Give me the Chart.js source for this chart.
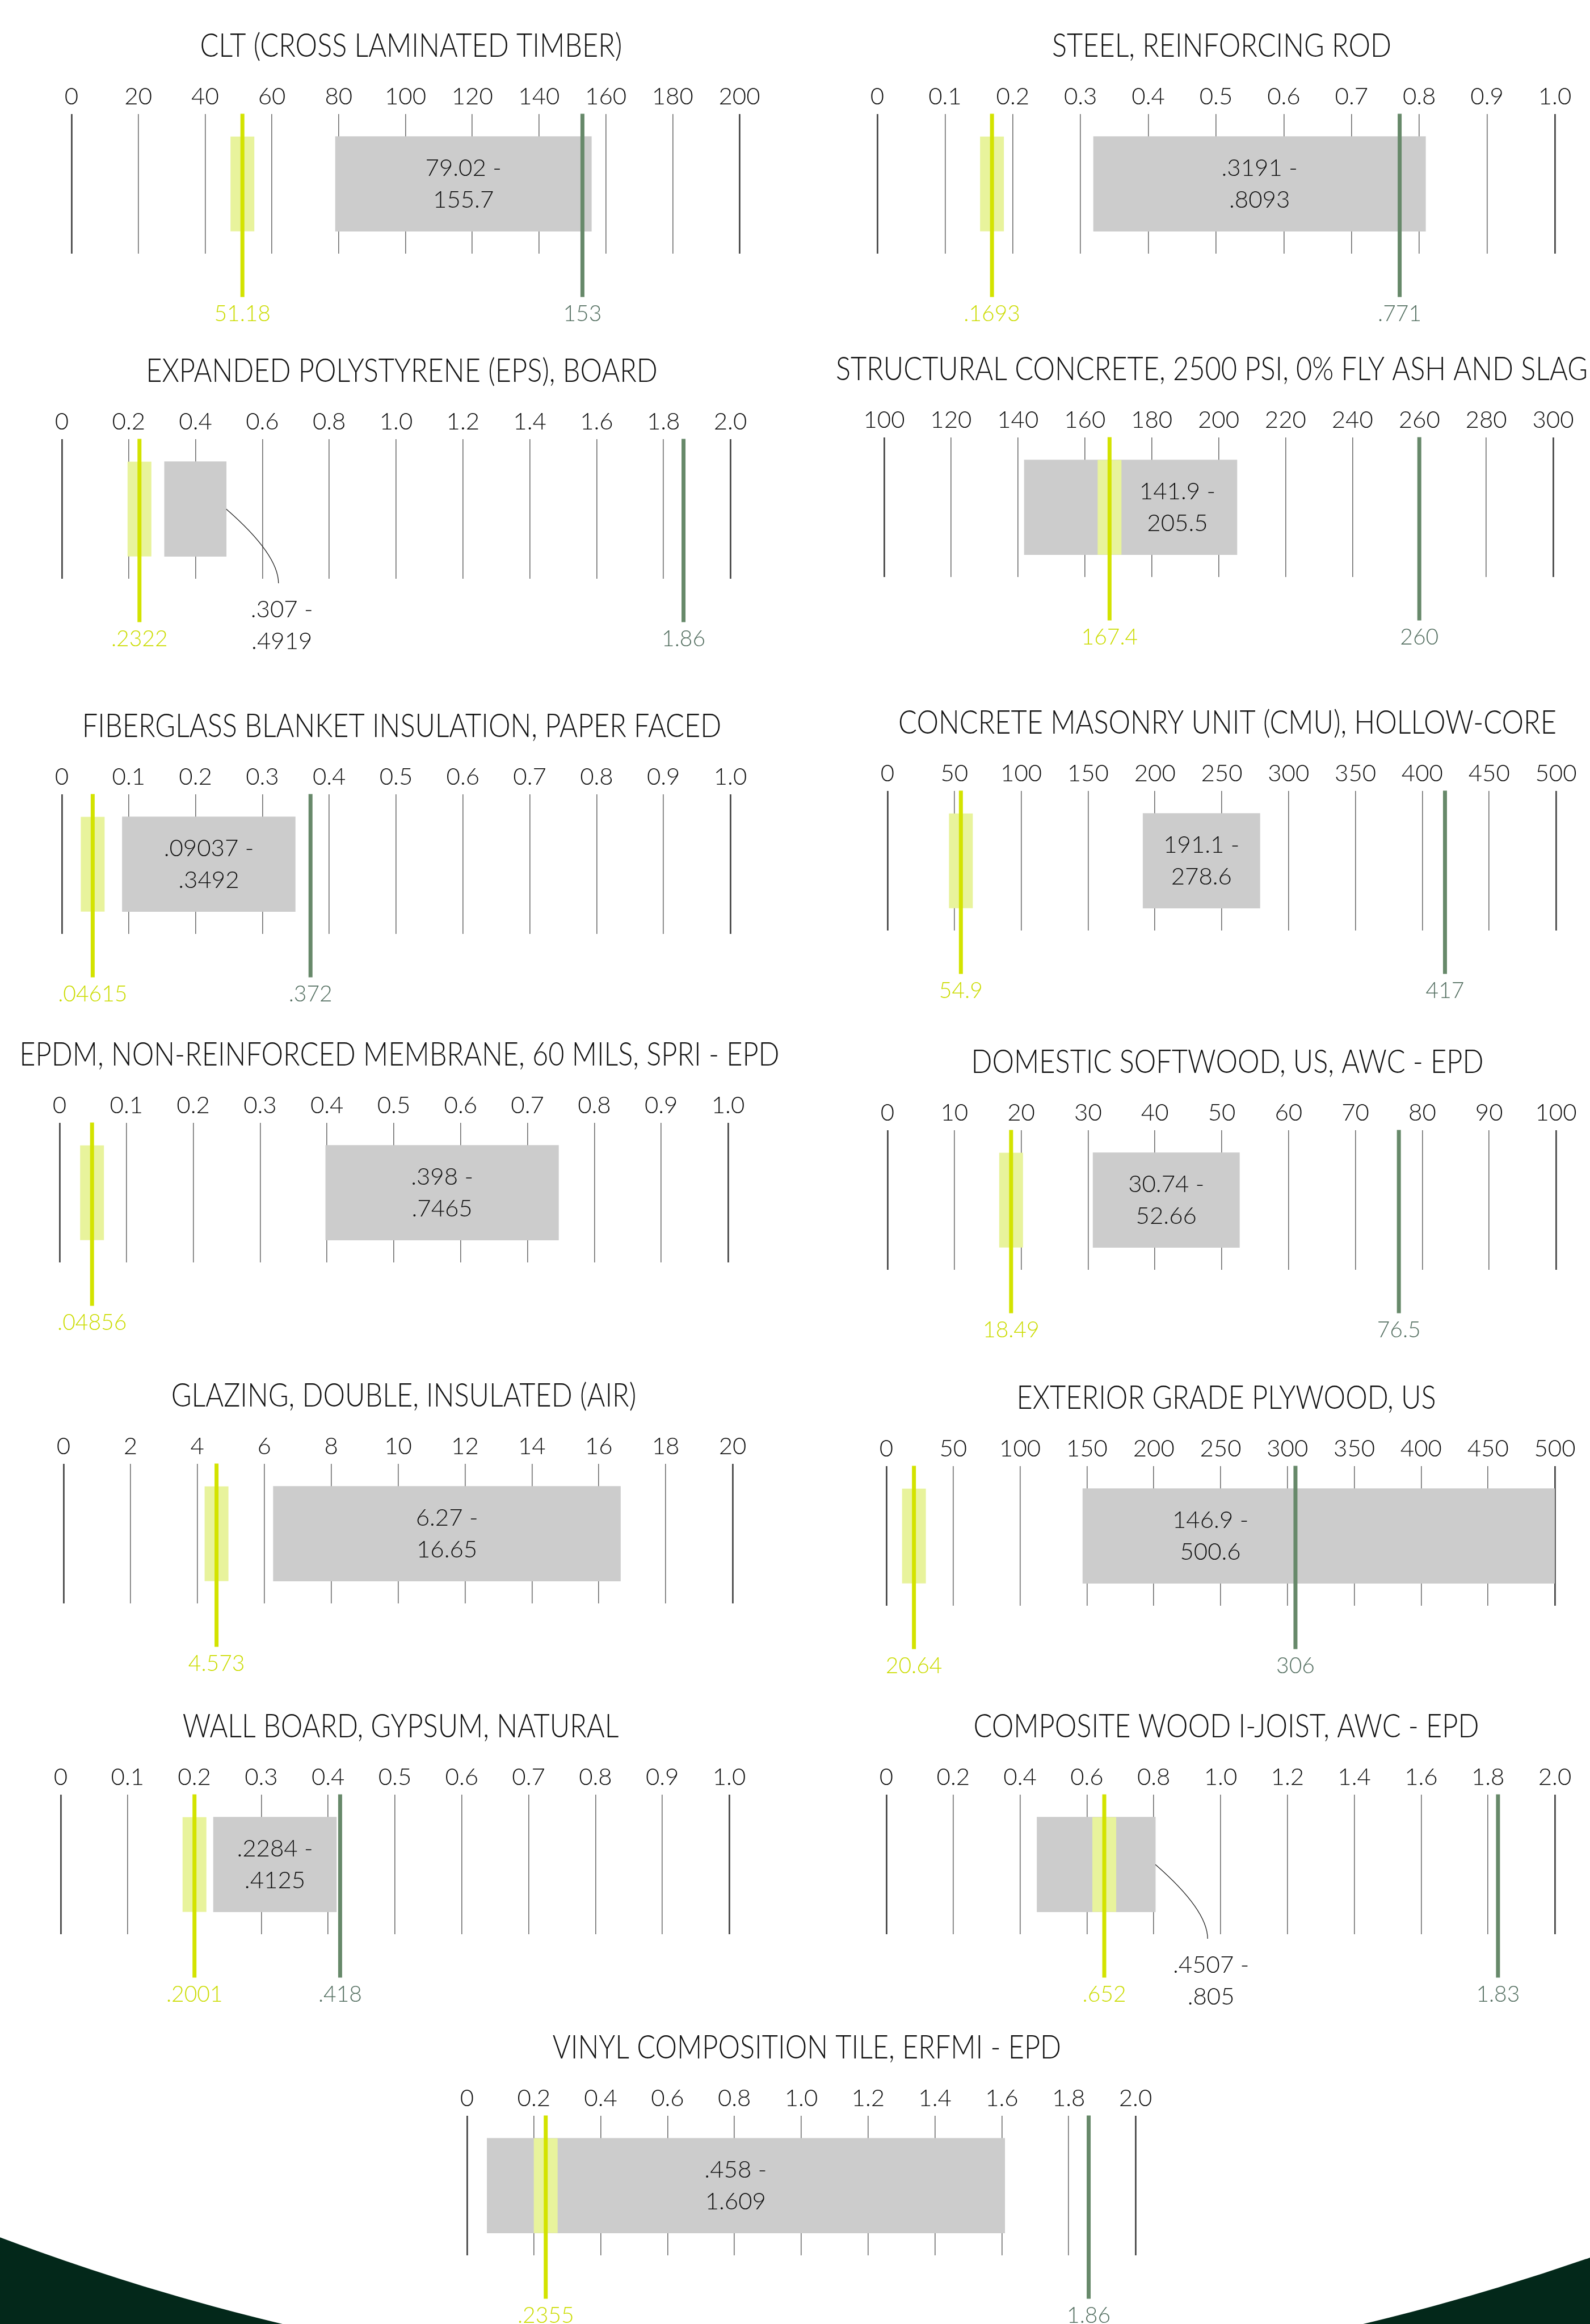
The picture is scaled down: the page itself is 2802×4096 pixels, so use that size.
<!DOCTYPE html>
<html>
<head>
<meta charset="utf-8">
<script src="https://cdn.jsdelivr.net/npm/chart.js@4.4.1/dist/chart.umd.min.js"></script>
<style>
  html, body { margin: 0; padding: 0; background: #fff; }
  body { width: 2802px; height: 4096px; position: relative; overflow: hidden; }
  canvas, svg { position: absolute; }
</style>
</head>
<body>
<svg width="2802" height="4096" style="left:0;top:0">
  <rect x="0" y="3800" width="2802" height="296" fill="#03281a"/>
  <circle cx="1450" cy="104" r="4104" fill="#fff"/>
</svg>
<script>
// materials, one small chart each
const titles = [
  'CLT (CROSS LAMINATED TIMBER)',
  'STEEL, REINFORCING ROD',
  'EXPANDED POLYSTYRENE (EPS), BOARD',
  'STRUCTURAL CONCRETE, 2500 PSI, 0% FLY ASH AND SLAG',
  'FIBERGLASS BLANKET INSULATION, PAPER FACED',
  'CONCRETE MASONRY UNIT (CMU), HOLLOW-CORE',
  'EPDM, NON-REINFORCED MEMBRANE, 60 MILS, SPRI - EPD',
  'DOMESTIC SOFTWOOD, US, AWC - EPD',
  'GLAZING, DOUBLE, INSULATED (AIR)',
  'EXTERIOR GRADE PLYWOOD, US',
  'WALL BOARD, GYPSUM, NATURAL',
  'COMPOSITE WOOD I-JOIST, AWC - EPD',
  'VINYL COMPOSITION TILE, ERFMI - EPD'
];

const tickLabels = [
  ['0','20','40','60','80','100','120','140','160','180','200'],
  ['0','0.1','0.2','0.3','0.4','0.5','0.6','0.7','0.8','0.9','1.0'],
  ['0','0.2','0.4','0.6','0.8','1.0','1.2','1.4','1.6','1.8','2.0'],
  ['100','120','140','160','180','200','220','240','260','280','300'],
  ['0','0.1','0.2','0.3','0.4','0.5','0.6','0.7','0.8','0.9','1.0'],
  ['0','50','100','150','200','250','300','350','400','450','500'],
  ['0','0.1','0.2','0.3','0.4','0.5','0.6','0.7','0.8','0.9','1.0'],
  ['0','10','20','30','40','50','60','70','80','90','100'],
  ['0','2','4','6','8','10','12','14','16','18','20'],
  ['0','50','100','150','200','250','300','350','400','450','500'],
  ['0','0.1','0.2','0.3','0.4','0.5','0.6','0.7','0.8','0.9','1.0'],
  ['0','0.2','0.4','0.6','0.8','1.0','1.2','1.4','1.6','1.8','2.0'],
  ['0','0.2','0.4','0.6','0.8','1.0','1.2','1.4','1.6','1.8','2.0']
];

// EPD range (grey box)
const rangeLo = [79.02, 0.3191, 0.307, 141.9, 0.09037, 191.1, 0.398, 30.74, 6.27, 146.9, 0.2284, 0.4507, 0.458];
const rangeHi = [155.7, 0.8093, 0.4919, 205.5, 0.3492, 278.6, 0.7465, 52.66, 16.65, 500.6, 0.4125, 0.805, 1.609];
// where the grey box starts in the drawing (vinyl box is drawn from ~0.06)
const boxStart = [79.02, 0.3191, 0.307, 141.9, 0.09037, 191.1, 0.398, 30.74, 6.27, 146.9, 0.2284, 0.4507, 0.06];
// yellow marker and green marker
const lowValue = [51.18, 0.1693, 0.2322, 167.4, 0.04615, 54.9, 0.04856, 18.49, 4.573, 20.64, 0.2001, 0.652, 0.2355];
const highValue = [153, 0.771, 1.86, 260, 0.372, 417, null, 76.5, null, 306, 0.418, 1.83, 1.86];

// page layout
const colLeft = [0, 1401, 700];
const colWidth = [1401, 1401, 1402];
const layout = [
  {col: 0, gridTop: 195, x0: 126, x1: 1303},
  {col: 1, gridTop: 195, x0: 1546, x1: 2740},
  {col: 0, gridTop: 768, x0: 109, x1: 1287},
  {col: 1, gridTop: 765, x0: 1558, x1: 2737},
  {col: 0, gridTop: 1394, x0: 109, x1: 1287},
  {col: 1, gridTop: 1388, x0: 1564, x1: 2742},
  {col: 0, gridTop: 1973, x0: 105, x1: 1283},
  {col: 1, gridTop: 1986, x0: 1564, x1: 2742},
  {col: 0, gridTop: 2574, x0: 112, x1: 1291},
  {col: 1, gridTop: 2578, x0: 1562, x1: 2740},
  {col: 0, gridTop: 3157, x0: 107, x1: 1285},
  {col: 1, gridTop: 3157, x0: 1562, x1: 2740},
  {col: 2, gridTop: 3723, x0: 823, x1: 2001}
];
// where the range text sits inside the box ('out' = below, with leader)
const labelFrac = [0.5, 0.5, 'out', 0.72, 0.5, 0.5, 0.5, 0.5, 0.5, 0.27, 0.5, 'out', 0.48];

const FONT = 'Lato, "Open Sans", sans-serif';
const YELLOW = '#d3e300';
const GREEN = '#67896a';

const fmt = v => String(v).replace(/^0\./, '.');

const marks = {
  id: 'marks',
  afterDatasetsDraw(chart, args, o) {
    const ctx = chart.ctx;
    const a = chart.chartArea;
    const xs = chart.scales.x;
    const bar = chart.getDatasetMeta(0).data[0];
    const bTop = bar.y - bar.height / 2, bH = bar.height;
    const bL = Math.min(bar.x, bar.base), bR = Math.max(bar.x, bar.base);
    const lowX = xs.getPixelForValue(o.low);

    ctx.save();
    ctx.fillStyle = '#e8f39c';
    ctx.fillRect(lowX - 21, bTop, 42, bH);

    ctx.fillStyle = '#111';
    ctx.font = '300 42px ' + FONT;
    ctx.textAlign = 'center';
    ctx.textBaseline = 'middle';
    if (o.frac === 'out') {
      const ex = bR + 92, sy = bTop + bH * 0.5;
      ctx.strokeStyle = '#222';
      ctx.lineWidth = 1.3;
      ctx.beginPath();
      ctx.moveTo(bR, sy);
      ctx.quadraticCurveTo(ex, sy + 80, ex, a.bottom + 8);
      ctx.stroke();
      ctx.fillText(o.range[0], ex + 6, a.top + 300);
      ctx.fillText(o.range[1], ex + 6, a.top + 356);
    } else {
      const cx = bL + o.frac * (bR - bL), cy = bTop + bH / 2;
      ctx.fillText(o.range[0], cx, cy - 28);
      ctx.fillText(o.range[1], cx, cy + 28);
    }

    ctx.lineWidth = 7;
    ctx.strokeStyle = YELLOW;
    ctx.beginPath();
    ctx.moveTo(lowX, a.top - 1);
    ctx.lineTo(lowX, a.top + 322);
    ctx.stroke();
    ctx.font = '300 39px ' + FONT;
    ctx.fillStyle = '#cbdc00';
    ctx.fillText(fmt(o.low), lowX, a.top + 352);

    if (o.high != null) {
      const hx = xs.getPixelForValue(o.high);
      ctx.strokeStyle = GREEN;
      ctx.beginPath();
      ctx.moveTo(hx, a.top - 1);
      ctx.lineTo(hx, a.top + 322);
      ctx.stroke();
      ctx.fillStyle = '#557062';
      ctx.fillText(fmt(o.high), hx, a.top + 352);
    }
    ctx.restore();
  },
  afterDraw(chart, args, o) {
    const ctx = chart.ctx;
    const a = chart.chartArea;
    const squeeze = 0.84;
    ctx.save();
    ctx.font = '300 58px ' + FONT;
    ctx.fillStyle = '#111';
    ctx.textAlign = 'center';
    ctx.textBaseline = 'middle';
    const w = ctx.measureText(o.title).width * squeeze;
    let cx = (a.left + a.right) / 2 + 10;
    cx = Math.min(cx, chart.width - w / 2 - 4);
    cx = Math.max(cx, w / 2 + 4);
    ctx.translate(cx, a.top - 120);
    ctx.scale(squeeze, 1);
    ctx.fillText(o.title, 0, 0);
    ctx.restore();
  }
};

titles.forEach((title, i) => {
  const L = layout[i];
  const left = colLeft[L.col], width = colWidth[L.col];
  const height = 620;
  const cv = document.createElement('canvas');
  cv.width = width;
  cv.height = height;
  cv.style.left = left + 'px';
  cv.style.top = (L.gridTop - 200) + 'px';
  document.body.appendChild(cv);

  const labels = tickLabels[i];
  const vals = labels.map(Number);
  const last = vals.length - 1;

  new Chart(cv, {
    type: 'bar',
    data: {
      datasets: [{
        data: [{x: [boxStart[i], rangeHi[i]], y: 0}],
        backgroundColor: '#cccccc',
        borderWidth: 0,
        barThickness: 167
      }]
    },
    options: {
      indexAxis: 'y',
      responsive: false,
      animation: false,
      devicePixelRatio: 1,
      layout: {padding: {top: 200 - 56, bottom: height - 200 - 252, left: L.x0 - left, right: left + width - L.x1}},
      plugins: {
        legend: {display: false},
        tooltip: {enabled: false},
        marks: {
          title: title,
          low: lowValue[i],
          high: highValue[i],
          frac: labelFrac[i],
          range: [fmt(rangeLo[i]) + ' -', fmt(rangeHi[i])]
        }
      },
      scales: {
        x: {
          type: 'linear',
          position: 'top',
          min: vals[0],
          max: vals[last],
          afterBuildTicks: s => { s.ticks = vals.map(v => ({value: v})); },
          ticks: {
            autoSkip: false,
            maxRotation: 0,
            padding: 6,
            color: '#111',
            font: {family: FONT, size: 42, weight: 300},
            callback: (v, k) => labels[k]
          },
          grid: {
            drawTicks: false,
            color: c => (c.index === 0 || c.index === last) ? '#4a4a4a' : '#6f6f6f',
            lineWidth: c => (c.index === 0 || c.index === last) ? 2.8 : 1.6
          },
          border: {display: false}
        },
        y: {type: 'linear', display: false, min: -1, max: 1}
      }
    },
    plugins: [marks]
  });
});
</script>
</body>
</html>
